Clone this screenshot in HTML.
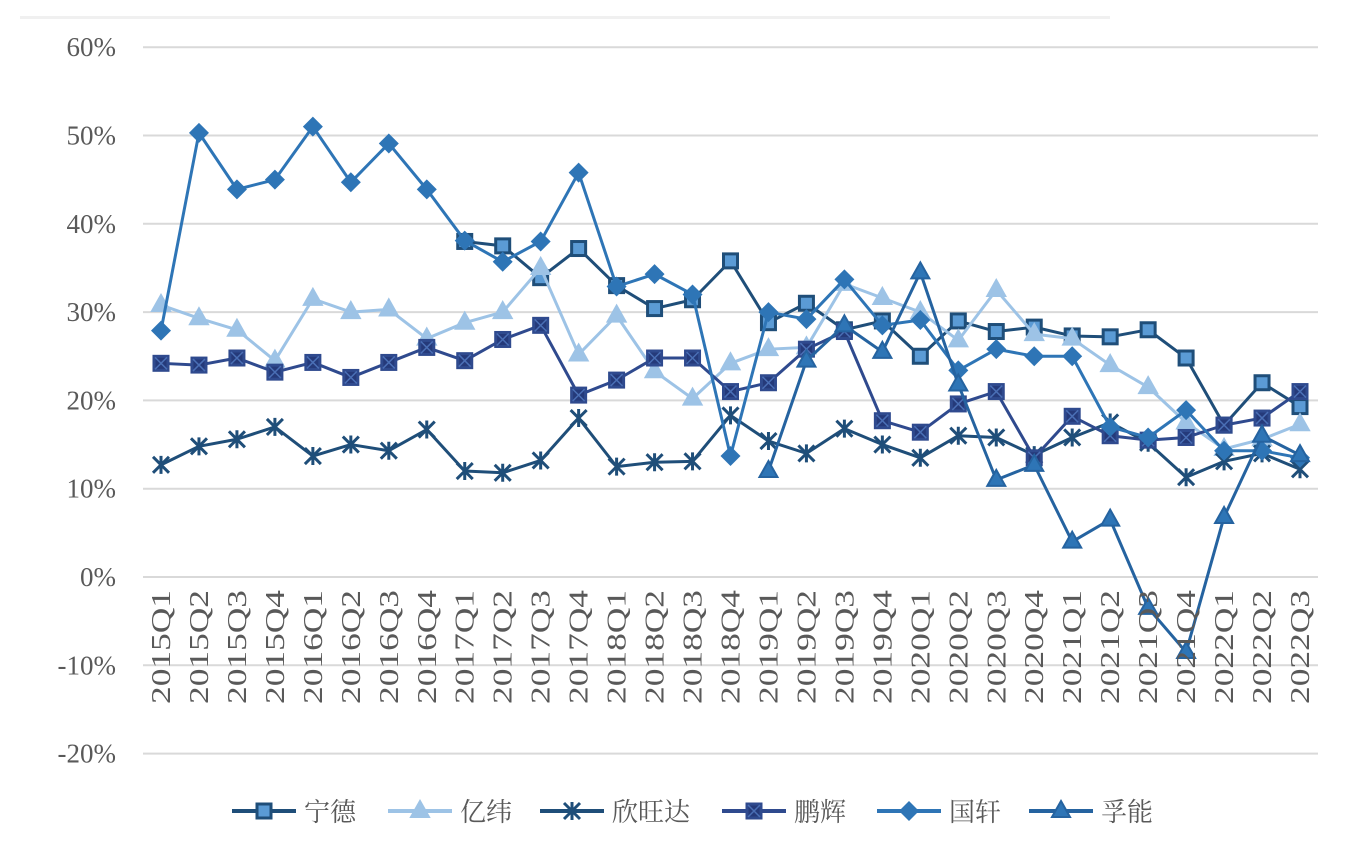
<!DOCTYPE html>
<html><head><meta charset="utf-8"><style>
body{margin:0;background:#fff;}
svg{display:block;font-family:"Liberation Serif","Noto Serif CJK SC",serif;}
</style></head><body>
<svg id="chart" width="1352" height="856" viewBox="0 0 1352 856" xmlns="http://www.w3.org/2000/svg">
<rect x="20" y="16" width="1090" height="3" fill="#f0f0f0"/>
<g id="grid"></g><g id="series"></g><g id="xlabels"></g><g id="legend"></g>
</svg>
<script>
const categories=["2015Q1","2015Q2","2015Q3","2015Q4","2016Q1","2016Q2","2016Q3","2016Q4","2017Q1","2017Q2","2017Q3","2017Q4","2018Q1","2018Q2","2018Q3","2018Q4","2019Q1","2019Q2","2019Q3","2019Q4","2020Q1","2020Q2","2020Q3","2020Q4","2021Q1","2021Q2","2021Q3","2021Q4","2022Q1","2022Q2","2022Q3"];
const yTicks=[60,50,40,30,20,10,0,-10,-20];
const ningde=[null,null,null,null,null,null,null,null,38,37.5,33.9,37.2,33,30.4,31.4,35.8,28.8,31,28,29,25,29,27.8,28.3,27.3,27.2,28,24.8,17.2,22,19.3];
const yiwei=[30.8,29.3,28,24.5,31.5,30,30.3,27,28.8,30,35,25.2,29.6,23.3,20.2,24.2,25.8,26,33.2,31.6,30,26.8,32.5,27.5,27,24,21.5,17.5,14.5,15.6,17.3];
const xinwangda=[12.7,14.8,15.6,17,13.7,15,14.3,16.7,12,11.8,13.2,18,12.5,13,13.1,18.3,15.4,14,16.8,15,13.5,16,15.8,13.8,15.8,17.5,15.2,11.3,13.1,14,12.2];
const penghui=[24.2,24,24.8,23.2,24.3,22.6,24.3,26,24.5,26.9,28.5,20.6,22.3,24.8,24.8,21,22,25.8,27.8,17.7,16.4,19.6,21,13.5,18.2,16,15.5,15.8,17.2,18,21];
const guoxuan=[27.9,50.3,43.9,45,51,44.7,49.1,43.9,38.1,35.7,38,45.8,32.9,34.3,32,13.7,30,29.2,33.7,28.5,29.1,23.4,25.8,25,25,17,15.8,18.9,14.3,14.3,13.5];
const funeng=[null,null,null,null,null,null,null,null,null,null,null,null,null,null,null,null,12,24.5,28.5,25.5,34.5,21.8,11,12.7,4,6.5,-3.5,-8.5,6.8,16,13.8];
const seriesNames=["宁德","亿纬","欣旺达","鹏辉","国轩","孚能"];
const NS="http://www.w3.org/2000/svg";
const x=i=>161+i*(1300-161)/(categories.length-1);
const y=v=>577-v*8.83;
function mk(tag,attrs,parent){const e=document.createElementNS(NS,tag);for(const k in attrs)e.setAttribute(k,attrs[k]);parent.appendChild(e);return e;}
const grid=document.getElementById('grid');
yTicks.forEach(t=>{
  const l=mk('line',{x1:143,x2:1318,y1:y(t),y2:y(t),stroke:'#d9d9d9','stroke-width':2},grid);
  
  
  const tx=mk('text',{x:116,y:y(t)+9,'text-anchor':'end','font-size':27,fill:'#595959'},grid);
  tx.textContent=t+'%';
  
  
});
const xl=document.getElementById('xlabels');
categories.forEach((c,i)=>{
  const t=mk('text',{transform:`translate(${x(i)+9},590) rotate(-90)`,'text-anchor':'end','font-size':27,textLength:114,lengthAdjust:'spacingAndGlyphs',fill:'#595959'},xl);
  t.textContent=c;
  
  
});
const styles=[
 {data:ningde,line:'#1f4e79',fill:'#5b9bd5',m:'square'},
 {data:yiwei,line:'#9dc3e6',fill:'#9dc3e6',m:'tri'},
 {data:xinwangda,line:'#1f4e79',fill:'#1f4e79',m:'star'},
 {data:penghui,line:'#2f4a8e',fill:'#253a7a',m:'xsquare'},
 {data:guoxuan,line:'#2e75b6',fill:'#2e75b6',m:'diamond'},
 {data:funeng,line:'#2563a0',fill:'#2e75b6',m:'tri'}
];
function marker(type,cx,cy,s,g){
  if(type==='square'||type==='xsquare'){
    mk('rect',{x:cx-7,y:cy-7,width:14,height:14,fill:s.fill,stroke:s.line,'stroke-width':3},g);
    if(type==='xsquare'){mk('path',{d:`M${cx-6} ${cy-6}L${cx+6} ${cy+6}M${cx+6} ${cy-6}L${cx-6} ${cy+6}`,stroke:'#4a6fb5','stroke-width':1.5},g);}
  }else if(type==='tri'){
    mk('path',{d:`M${cx} ${cy-10}L${cx+9} ${cy+6}L${cx-9} ${cy+6}Z`,fill:s.fill,stroke:s.line,'stroke-width':2},g);
  }else if(type==='diamond'){
    mk('path',{d:`M${cx} ${cy-10}L${cx+10} ${cy}L${cx} ${cy+10}L${cx-10} ${cy}Z`,fill:s.fill},g);
  }else{
    mk('path',{d:`M${cx-8} ${cy-8}L${cx+8} ${cy+8}M${cx+8} ${cy-8}L${cx-8} ${cy+8}M${cx} ${cy-9}L${cx} ${cy+9}`,stroke:s.line,'stroke-width':3},g);
  }
}
const sg=document.getElementById('series');
styles.forEach((s,k)=>{
  const g=mk('g',{},sg);
  
  
  let d='';
  s.data.forEach((v,i)=>{if(v===null)return;d+=(d?'L':'M')+x(i)+' '+y(v);});
  mk('path',{d:d,fill:'none',stroke:s.line,'stroke-width':3,'stroke-linejoin':'round'},g);
  s.data.forEach((v,i)=>{if(v===null)return;marker(s.m,x(i),y(v),s,g);});
});
const lg=document.getElementById('legend');
const legendStarts=[232,388,540,722,877,1029];
styles.forEach((s,k)=>{
  const g=mk('g',{},lg);
  
  
  const start=legendStarts[k];
  mk('line',{x1:start,x2:start+64,y1:811,y2:811,stroke:s.line,'stroke-width':4},g);
  marker(s.m,start+32,811,s,g);
  const t=mk('text',{x:start+72,y:821,'font-size':26,fill:'#595959'},g);
  t.textContent=seriesNames[k];
});
</script>
</body></html>
